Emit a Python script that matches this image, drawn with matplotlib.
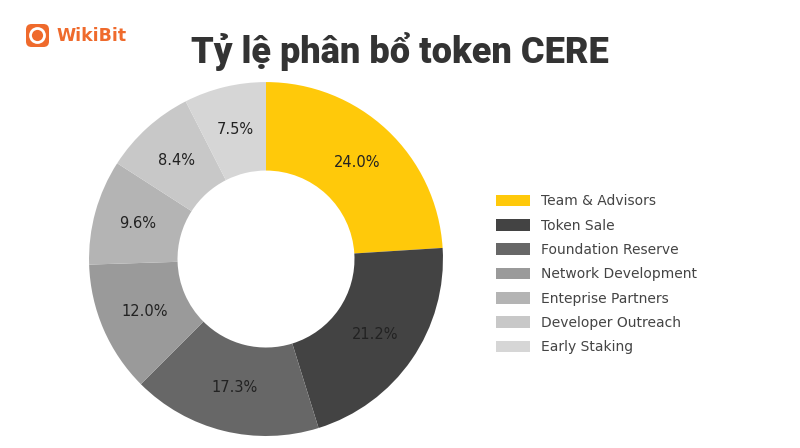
import matplotlib
matplotlib.use('Agg')
import matplotlib.pyplot as plt
from matplotlib.patches import FancyBboxPatch, Circle

# dữ liệu phân bổ token CERE
labels = ['Team & Advisors', 'Token Sale', 'Foundation Reserve', 'Network Development',
          'Enteprise Partners', 'Developer Outreach', 'Early Staking']
shares = [24.0, 21.2, 17.3, 12.0, 9.6, 8.4, 7.5]
colors = ['#FFC90A', '#434343', '#676767', '#9A9A9A', '#B4B4B4', '#C8C8C8', '#D6D6D6']

fig = plt.figure(figsize=(8, 4.48), dpi=100)
fig.patch.set_facecolor('white')

# donut: tâm ~ (266, 259) px, bán kính ~177 px
ax = fig.add_axes([0.11125, 0.0268, 0.4425, 0.790])
wedges, _, autot = ax.pie(shares, colors=colors, startangle=90, counterclock=False,
                          autopct='%.1f%%', pctdistance=0.75,
                          wedgeprops=dict(width=0.5, linewidth=0),
                          textprops=dict(fontsize=10.5, color='#222222'))
ax.set_xlim(-1, 1); ax.set_ylim(-1, 1)
ax.set_aspect('equal')

fig.legend(wedges, labels, loc='upper left', bbox_to_anchor=(0.6195, 0.566),
           frameon=False, fontsize=10, labelcolor='#444444',
           handlelength=2.45, handleheight=0.9, handletextpad=0.85,
           labelspacing=0.74, borderaxespad=0, borderpad=0)

fig.text(0.5, 0.859, 'Tỷ lệ phân bổ token CERE', ha='center', va='baseline',
         fontsize=26, fontweight='black', family=['Roboto', 'DejaVu Sans'], color='#333333')

# logo WikiBit góc trái
lax = fig.add_axes([25 / 800, 1 - 48 / 448, 25 / 800, 25 / 448])
lax.set_xlim(0, 1); lax.set_ylim(0, 1); lax.axis('off')
lax.add_patch(FancyBboxPatch((0.04, 0.04), 0.92, 0.92, boxstyle='round,pad=0,rounding_size=0.22',
                             facecolor='#EF6A2C', edgecolor='none'))
lax.add_patch(Circle((0.5, 0.5), 0.28, facecolor='none', edgecolor='white', lw=2))
fig.text(0.07, 0.919, 'WikiBit', ha='left', va='center', fontsize=12.5,
         fontweight='bold', color='#EF6A2C')

fig.savefig('out.png', dpi=100)
